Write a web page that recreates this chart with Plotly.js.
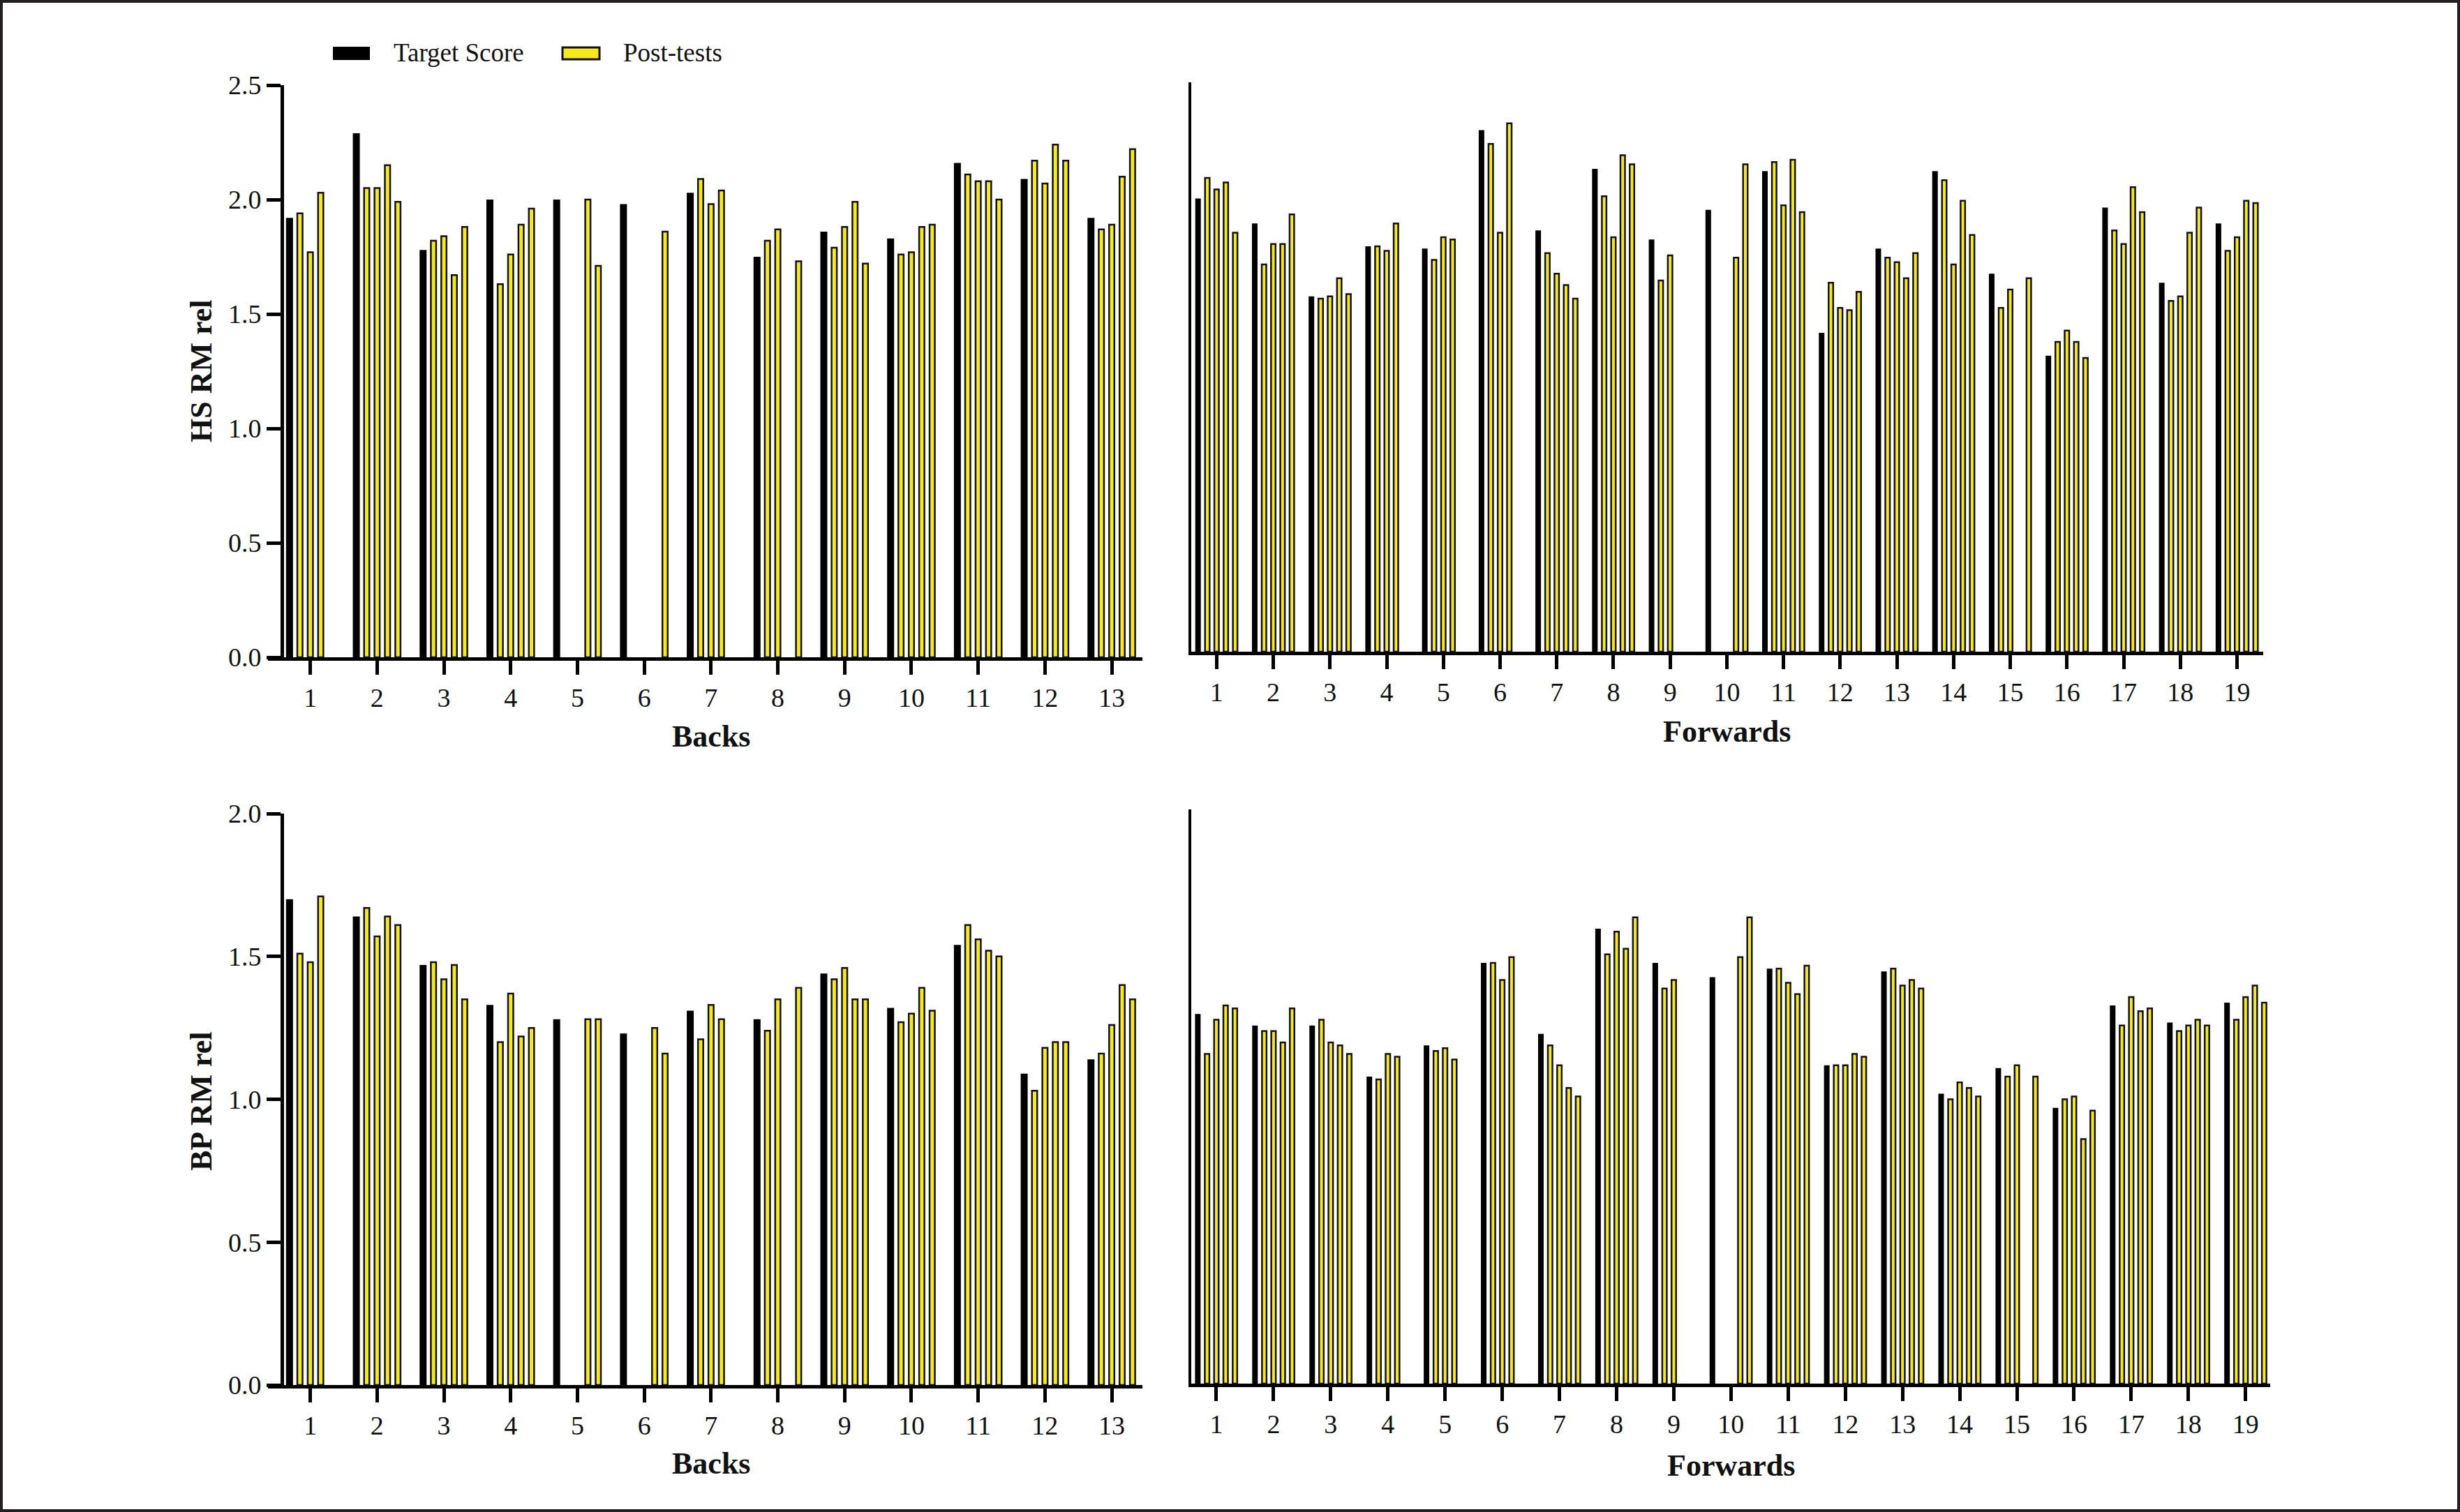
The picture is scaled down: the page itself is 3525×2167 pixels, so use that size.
<!DOCTYPE html>
<html>
<head>
<meta charset="utf-8">
<script src="https://cdn.plot.ly/plotly-3.0.1.min.js"></script>
<style>
html,body{margin:0;padding:0;background:#fff;}
#chart{width:3525px;height:2167px;}
</style>
</head>
<body>
<div id="chart"></div>
<script>
// ---------- DATA ----------
const backsLabels = ["1","2","3","4","5","6","7","8","9","10","11","12","13"];
const forwardsLabels = ["1","2","3","4","5","6","7","8","9","10","11","12","13","14","15","16","17","18","19"];

// HS RM rel - Backs
const hsBacksTarget = [1.92, 2.29, 1.78, 2.00, 2.00, 1.98, 2.03, 1.75, 1.86, 1.83, 2.16, 2.09, 1.92];
const hsBacksPost1  = [1.94, 2.05, 1.82, 1.63, null, null, 2.09, 1.82, 1.79, 1.76, 2.11, 2.17, 1.87];
const hsBacksPost2  = [1.77, 2.05, 1.84, 1.76, null, null, 1.98, 1.87, 1.88, 1.77, 2.08, 2.07, 1.89];
const hsBacksPost3  = [2.03, 2.15, 1.67, 1.89, 2.00, null, 2.04, null, 1.99, 1.88, 2.08, 2.24, 2.10];
const hsBacksPost4  = [null, 1.99, 1.88, 1.96, 1.71, 1.86, null, 1.73, 1.72, 1.89, 2.00, 2.17, 2.22];

// HS RM rel - Forwards
const hsFwdTarget = [1.99, 1.88, 1.56, 1.78, 1.77, 2.29, 1.85, 2.12, 1.81, 1.94, 2.11, 1.40, 1.77, 2.11, 1.66, 1.30, 1.95, 1.62, 1.88];
const hsFwdPost1  = [2.08, 1.70, 1.55, 1.78, 1.72, 2.23, 1.75, 2.00, 1.63, null, 2.15, 1.62, 1.73, 2.07, 1.51, 1.36, 1.85, 1.54, 1.76];
const hsFwdPost2  = [2.03, 1.79, 1.56, 1.76, 1.82, 1.84, 1.66, 1.82, 1.74, null, 1.96, 1.51, 1.71, 1.70, 1.59, 1.41, 1.79, 1.56, 1.82];
const hsFwdPost3  = [2.06, 1.79, 1.64, 1.88, 1.81, 2.32, 1.61, 2.18, null, 1.73, 2.16, 1.50, 1.64, 1.98, null, 1.36, 2.04, 1.84, 1.98];
const hsFwdPost4  = [1.84, 1.92, 1.57, null, null, null, 1.55, 2.14, null, 2.14, 1.93, 1.58, 1.75, 1.83, 1.64, 1.29, 1.93, 1.95, 1.97];

// BP RM rel - Backs
const bpBacksTarget = [1.70, 1.64, 1.47, 1.33, 1.28, 1.23, 1.31, 1.28, 1.44, 1.32, 1.54, 1.09, 1.14];
const bpBacksPost1  = [1.51, 1.67, 1.48, 1.20, null, null, 1.21, 1.24, 1.42, 1.27, 1.61, 1.03, 1.16];
const bpBacksPost2  = [1.48, 1.57, 1.42, 1.37, null, null, 1.33, 1.35, 1.46, 1.30, 1.56, 1.18, 1.26];
const bpBacksPost3  = [1.71, 1.64, 1.47, 1.22, 1.28, 1.25, 1.28, null, 1.35, 1.39, 1.52, 1.20, 1.40];
const bpBacksPost4  = [null, 1.61, 1.35, 1.25, 1.28, 1.16, null, 1.39, 1.35, 1.31, 1.50, 1.20, 1.35];

// BP RM rel - Forwards
const bpFwdTarget = [1.30, 1.26, 1.26, 1.08, 1.19, 1.48, 1.23, 1.60, 1.48, 1.43, 1.46, 1.12, 1.45, 1.02, 1.11, 0.97, 1.33, 1.27, 1.34];
const bpFwdPost1  = [1.16, 1.24, 1.28, 1.07, 1.17, 1.48, 1.19, 1.51, 1.39, null, 1.46, 1.12, 1.46, 1.00, 1.08, 1.00, 1.26, 1.24, 1.28];
const bpFwdPost2  = [1.28, 1.24, 1.20, 1.16, 1.18, 1.42, 1.12, 1.59, 1.42, null, 1.41, 1.12, 1.40, 1.06, 1.12, 1.01, 1.36, 1.26, 1.36];
const bpFwdPost3  = [1.33, 1.20, 1.19, 1.15, 1.14, 1.50, 1.04, 1.53, null, 1.50, 1.37, 1.16, 1.42, 1.04, null, 0.86, 1.31, 1.28, 1.40];
const bpFwdPost4  = [1.32, 1.32, 1.16, null, null, null, 1.01, 1.64, null, 1.64, 1.47, 1.15, 1.39, 1.01, 1.08, 0.96, 1.32, 1.26, 1.34];

const legendTarget = "Target Score";
const legendPost = "Post-tests";

// ---------- STYLE / LAYOUT ----------
const W = 3525, H = 2167;
const px = x => x / W;
const py = y => 1 - y / H;
const FONT = "Liberation Serif, Times New Roman, serif";
const YELLOW = "#F6EA1C";

function panelTraces(xa, ya, labels, target, posts, cfg) {
  const xs = labels.map((_, i) => i + 1);
  const traces = [];
  const bw = cfg.black / cfg.spacing;
  const yw = cfg.yellow / cfg.spacing;
  const slot = cfg.slot / cfg.spacing;
  traces.push({
    type: "bar", x: xs, y: target, xaxis: xa, yaxis: ya,
    width: bw, offset: -2 * slot - bw / 2,
    marker: {color: "#000000", line: {width: 0}},
    showlegend: false, name: legendTarget, hoverinfo: "x+y+name"
  });
  posts.forEach((p, k) => {
    traces.push({
      type: "bar", x: xs, y: p, xaxis: xa, yaxis: ya,
      width: yw, offset: (k - 1) * slot - yw / 2,
      marker: {color: YELLOW, line: {width: 2.5, color: "#111111"}},
      showlegend: false, name: legendPost, hoverinfo: "x+y+name"
    });
  });
  return traces;
}

const cfgBacks = {spacing: 95.7, slot: 14.9, black: 10, yellow: 7.5};
const cfgFwdTop = {spacing: 81.23, slot: 13.3, black: 8, yellow: 6.5};
const cfgFwdBot = {spacing: 81.94, slot: 13.3, black: 8, yellow: 6.5};

const data = [].concat(
  panelTraces("x", "y", backsLabels, hsBacksTarget, [hsBacksPost1, hsBacksPost2, hsBacksPost3, hsBacksPost4], cfgBacks),
  panelTraces("x2", "y2", forwardsLabels, hsFwdTarget, [hsFwdPost1, hsFwdPost2, hsFwdPost3, hsFwdPost4], cfgFwdTop),
  panelTraces("x3", "y3", backsLabels, bpBacksTarget, [bpBacksPost1, bpBacksPost2, bpBacksPost3, bpBacksPost4], cfgBacks),
  panelTraces("x4", "y4", forwardsLabels, bpFwdTarget, [bpFwdPost1, bpFwdPost2, bpFwdPost3, bpFwdPost4], cfgFwdBot)
);

const tickFont = {family: FONT, size: 38, color: "#111"};
function xAxis(domain, range, labels, anchor) {
  return {
    domain: domain, range: range, anchor: anchor,
    tickmode: "array", tickvals: labels.map((_, i) => i + 1), ticktext: labels,
    ticks: "outside", ticklen: 20, tickwidth: 5, tickcolor: "#000",
    showline: true, linewidth: 5, linecolor: "#000",
    showgrid: false, zeroline: false, tickfont: tickFont, fixedrange: true
  };
}
function yAxisLeft(domain, range) {
  return {
    domain: domain, range: range, anchor: "free", position: px(404),
    dtick: 0.5, tick0: 0, tickformat: ".1f",
    ticks: "outside", ticklen: 20, tickwidth: 5, tickcolor: "#000",
    showline: true, linewidth: 5, linecolor: "#000",
    showgrid: false, zeroline: false, tickfont: tickFont, fixedrange: true
  };
}
function yAxisRight(domain, range, anchor) {
  return {
    domain: domain, range: range, anchor: anchor,
    ticks: "", showticklabels: false,
    showline: true, linewidth: 4, linecolor: "#000",
    showgrid: false, zeroline: false, fixedrange: true
  };
}

const titleFont = {family: FONT, size: 44, color: "#111", weight: "bold"};
function ann(text, x, y, opts) {
  return Object.assign({
    text: text, xref: "paper", yref: "paper", x: px(x), y: py(y),
    showarrow: false, xanchor: "center", yanchor: "middle",
    font: titleFont
  }, opts || {});
}

const layout = {
  width: W, height: H,
  margin: {l: 0, r: 0, t: 0, b: 0, pad: 0},
  paper_bgcolor: "#ffffff", plot_bgcolor: "rgba(0,0,0,0)",
  barmode: "overlay", showlegend: false,
  font: {family: FONT, color: "#111"},
  xaxis:  xAxis([px(384), px(1637)], [0.366, 13.459], backsLabels, "y"),
  yaxis:  yAxisLeft([py(942), py(122)], [0, 2.5]),
  xaxis2: xAxis([px(1707), px(3243)], [0.553, 19.462], forwardsLabels, "y2"),
  yaxis2: yAxisRight([py(934), py(118)], [0, 2.5], "x2"),
  xaxis3: xAxis([px(384), px(1637)], [0.366, 13.459], backsLabels, "y3"),
  yaxis3: yAxisLeft([py(1985), py(1166)], [0, 2.0]),
  xaxis4: xAxis([px(1707), px(3253)], [0.561, 19.43], forwardsLabels, "y4"),
  yaxis4: yAxisRight([py(1983), py(1160)], [0, 2.02], "x4"),
  shapes: [
    {type: "rect", xref: "paper", yref: "paper", x0: px(477), x1: px(530), y0: py(86), y1: py(67),
     fillcolor: "#000", line: {width: 0}},
    {type: "rect", xref: "paper", yref: "paper", x0: px(806), x1: px(859), y0: py(85), y1: py(68),
     fillcolor: YELLOW, line: {width: 3, color: "#111"}},
    {type: "rect", xref: "paper", yref: "paper", x0: 0, x1: 1, y0: 0, y1: 1,
     fillcolor: "rgba(0,0,0,0)", line: {width: 8, color: "#231f20"}}
  ],
  annotations: [
    ann(legendTarget, 562, 76, {xanchor: "left", font: {family: FONT, size: 37, color: "#111"}}),
    ann(legendPost, 891, 76, {xanchor: "left", font: {family: FONT, size: 37, color: "#111"}}),
    ann("HS RM rel", 288, 532, {textangle: -90}),
    ann("BP RM rel", 288, 1578, {textangle: -90}),
    ann("Backs", 1019, 1055),
    ann("Forwards", 2474, 1048),
    ann("Backs", 1019, 2097),
    ann("Forwards", 2480, 2100)
  ]
};

Plotly.newPlot("chart", data, layout, {staticPlot: true, displayModeBar: false});
</script>
</body>
</html>
